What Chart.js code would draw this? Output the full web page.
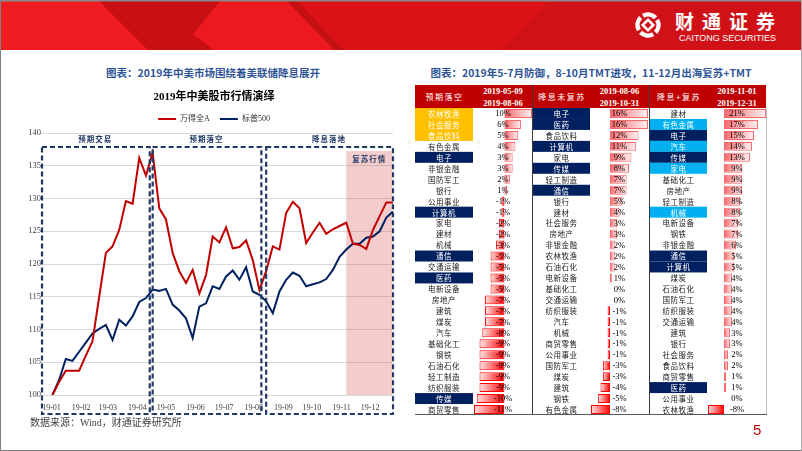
<!DOCTYPE html>
<html lang="zh-CN">
<head>
<meta charset="utf-8">
<title>2019年中美股市行情演绎</title>
<script src="https://cdn.jsdelivr.net/npm/chart.js@4.4.1/dist/chart.umd.min.js"></script>
<style>
*{box-sizing:border-box;}
html,body{margin:0;padding:0;background:#fff;}
#page{position:relative;width:802px;height:451px;overflow:hidden;background:#fff;font-family:"Liberation Serif","Noto Sans CJK SC",serif;}
.a{position:absolute;}
.ttl{position:absolute;top:65px;font-family:"Noto Sans CJK SC",sans-serif;font-weight:700;font-size:10.5px;color:#2F5597;white-space:nowrap;transform:translateX(-50%);line-height:16px;}
#frame{position:absolute;left:0;top:0;width:802px;height:451px;border-left:1.5px solid #808080;border-right:1.5px solid #A6A6A6;border-bottom:1.5px solid #808080;pointer-events:none;}
.hd{position:absolute;color:#fff;white-space:nowrap;transform:translate(-50%,-50%);line-height:10px;}
.hdn{font-family:"Noto Sans CJK SC",sans-serif;font-size:8px;letter-spacing:1.5px;}
.hdd{font-family:"Liberation Serif",serif;font-weight:700;font-size:8.5px;}
.vline{position:absolute;width:1px;background:#3a3a3a;}
</style>
</head>
<body>
<div id="page">
  <svg class="a" style="left:0;top:0" width="802" height="50">
    <rect width="802" height="50" fill="#DD1216"/>
    <polygon points="0,0 98,0 148,50 0,50" fill="#F01C21"/>
    <polygon points="98,0 221,0 193,34 214,50 148,50" fill="#C80F14"/>
    <polygon points="221,0 286,0 336,50 214,50 193,34" fill="#EC191E"/>
    <polygon points="286,0 296,0 344,50 334,50" fill="#C41015"/>
    <polygon points="550,0 802,0 802,50 500,50" fill="#D01118"/>
    <rect width="802" height="1.5" fill="#8a8a8a"/>
    <g transform="translate(648,25)">
      <circle r="10.5" fill="none" stroke="#fff" stroke-width="4.5" stroke-dasharray="13.5 3" transform="rotate(-30)"/>
      <rect x="-5" y="-5" width="10" height="10" fill="#fff" transform="rotate(45)"/>
      <rect x="-2.4" y="-2.4" width="4.8" height="4.8" fill="#D01118" transform="rotate(45)"/>
    </g>
    <text x="675" y="29" font-family="Noto Sans CJK SC" font-weight="700" font-size="19" fill="#fff" textLength="100" lengthAdjust="spacing">财通证券</text>
    <text x="679" y="40.5" font-family="Liberation Sans" font-size="9.5" fill="#fff" textLength="97" lengthAdjust="spacingAndGlyphs">CAITONG SECURITIES</text>
  </svg>

  <div class="ttl" style="left:213px">图表：2019年中美市场围绕着美联储降息展开</div>
  <div class="ttl" style="left:591px">图表：2019年5-7月防御，8-10月TMT进攻，11-12月出海复苏+TMT</div>

  <canvas id="line" class="a" style="left:26px;top:85px" width="376" height="340"></canvas>

  <div id="thead" class="a" style="left:415px;top:85px;width:351px;height:23px;background:#C00000"></div>
  <canvas id="t1" class="a" style="left:415px;top:108px" width="117" height="307"></canvas>
  <canvas id="t2" class="a" style="left:533px;top:108px" width="115" height="307"></canvas>
  <canvas id="t3" class="a" style="left:650px;top:108px" width="116" height="307"></canvas>
  <div class="vline" style="left:532px;top:85px;height:330px"></div>
  <div class="vline" style="left:649px;top:85px;height:330px"></div>
  <div class="a" style="left:766px;top:108px;width:1px;height:307px;background:#BFBFBF"></div>
  <div class="a" style="left:415px;top:414px;width:352px;height:1px;background:#595959"></div>

  <div class="a" style="left:30px;top:416px;font-size:10px;color:#404040;white-space:nowrap;line-height:14px">数据来源：Wind，财通证券研究所</div>
  <div class="a" style="left:753px;top:421px;font-family:'Liberation Sans',sans-serif;font-size:15px;color:#C00000;line-height:18px">5</div>
  <div id="frame"></div>
</div>

<script>
// ---------- line chart data ----------
const startDate = '2019-01-02';           // first weekly observation (base = 100)
const axisStart = '2018-12-21';
const seriesNames = ['万得全A', '标普500'];
const windA = [100, 102.0, 103.7, 103.7, 103.7, 106.0, 108.2, 115.0, 121.7, 122.7,
  125.2, 129.6, 129.2, 136.2, 133.5, 137.0, 128.5, 126.8, 121.7, 118.9,
  117.1, 119.1, 115.5, 118.3, 124.2, 123.3, 125.6, 122.4, 122.6, 123.6,
  120.6, 116.0, 118.9, 122.7, 122.2, 127.8, 129.5, 128.5, 123.2, 124.8,
  126.3, 124.6, 125.3, 125.8, 126.3, 123.1, 122.9, 122.3, 125.2, 127.3,
  129.4, 129.4];
const sp500 = [100, 102.3, 105.5, 105.2, 106.6, 108.0, 109.4, 110.1, 110.7, 108.4,
  111.5, 110.6, 112.0, 114.2, 114.8, 116.1, 115.9, 116.2, 113.8, 112.9,
  111.7, 108.7, 113.5, 114.0, 116.6, 116.2, 118.1, 119.0, 117.6, 119.5,
  115.8, 115.3, 114.3, 112.5, 115.8, 117.6, 118.7, 118.2, 116.6, 116.9,
  117.2, 117.7, 119.1, 121.1, 122.2, 123.1, 123.1, 124.0, 124.2, 125.0,
  127.1, 128.0];
const monthLabels = ['19-01','19-02','19-03','19-04','19-05','19-06','19-07','19-08','19-09','19-10','19-11','19-12'];
const monthStarts = ['2019-01-01','2019-02-01','2019-03-01','2019-04-01','2019-05-01','2019-06-01',
  '2019-07-01','2019-08-01','2019-09-01','2019-10-01','2019-11-01','2019-12-01'];
const phaseNames = ['预期交易', '预期落空', '降息落地'];
const phaseFrom = ['2018-12-21', '2019-04-16', '2019-08-13'];
const phaseTo = ['2019-04-14', '2019-08-09', '2019-12-25'];
const recoveryName = '复苏行情';
const recoveryFrom = '2019-11-06';
const recoveryTo = '2019-12-24';

// ---------- table data ----------
const tableTitles = ['预期落空', '降息未复苏', '降息+复苏'];
const tableFrom = ['2019-05-09', '2019-08-06', '2019-11-01'];
const tableTo = ['2019-08-06', '2019-10-31', '2019-12-31'];
const p1Names = ['农林牧渔','社会服务','食品饮料','有色金属','电子','非银金融','国防军工','银行','公用事业','计算机','家电','建材','机械','通信','交通运输','医药','电新设备','房地产','建筑','煤炭','汽车','基础化工','钢铁','石油石化','轻工制造','纺织服装','传媒','商贸零售'];
const p1Vals = [10,6,5,4,3,3,2,1,-1,-1,-2,-2,-3,-5,-5,-5,-5,-7,-7,-7,-8,-9,-9,-9,-9,-9,-10,-11];
const p2Names = ['电子','医药','食品饮料','计算机','家电','传媒','轻工制造','通信','银行','建材','社会服务','房地产','非银金融','农林牧渔','石油石化','电新设备','基础化工','交通运输','纺织服装','汽车','机械','商贸零售','公用事业','国防军工','煤炭','建筑','钢铁','有色金属'];
const p2Vals = [16,16,12,11,9,8,7,7,5,4,3,3,2,2,2,1,0,0,-1,-1,-1,-1,-1,-3,-3,-4,-5,-8];
const p3Names = ['建材','有色金属','电子','汽车','传媒','家电','基础化工','房地产','轻工制造','机械','电新设备','钢铁','非银金融','通信','计算机','煤炭','石油石化','国防军工','纺织服装','交通运输','建筑','银行','社会服务','食品饮料','商贸零售','医药','公用事业','农林牧渔'];
const p3Vals = [21,17,15,14,13,9,9,9,8,8,7,7,6,5,5,4,4,4,4,4,3,3,2,2,1,1,0,-8];
const tmtGroup = ['电子','计算机','通信','传媒','医药'];
const defensiveGroup = ['农林牧渔','社会服务','食品饮料'];
const recoveryGroup = ['有色金属','汽车','家电','机械'];

Chart.defaults.font.family = '"Liberation Serif","Noto Sans CJK SC",serif';

// ---------- line chart ----------
const day = s => Math.round((Date.parse(s) - Date.parse(startDate)) / 864e5);
const toPts = arr => arr.map((v, i) => ({ x: i * 7, y: v }));

const phasePlugin = {
  id: 'phases',
  beforeDatasetsDraw(chart) {
    const { ctx, chartArea: a, scales: { x } } = chart;
    const x0 = x.getPixelForValue(day(recoveryFrom));
    const x1 = x.getPixelForValue(day(recoveryTo));
    ctx.save();
    ctx.fillStyle = 'rgba(215,85,85,0.3)';
    ctx.fillRect(x0, a.top + 18, x1 - x0, a.bottom - a.top - 18);
    ctx.restore();
  },
  afterDatasetsDraw(chart) {
    const { ctx, chartArea: a, scales: { x } } = chart;
    ctx.save();
    const top = a.top + 14, bottom = a.bottom + 19;
    ctx.strokeStyle = '#1F3864';
    ctx.lineWidth = 2.2;
    ctx.setLineDash([5, 3]);
    phaseNames.forEach((n, i) => {
      const x0 = x.getPixelForValue(day(phaseFrom[i]));
      const x1 = x.getPixelForValue(day(phaseTo[i]));
      ctx.strokeRect(x0 + 1, top, x1 - x0 - 1, bottom - top);
    });
    ctx.setLineDash([]);
    ctx.fillStyle = '#1F3864';
    ctx.font = 'bold 7.5px "Noto Sans CJK SC"';
    ctx.textAlign = 'center';
    ctx.textBaseline = 'middle';
    if ('letterSpacing' in ctx) ctx.letterSpacing = '1px';
    phaseNames.forEach((n, i) => {
      const x0 = x.getPixelForValue(day(phaseFrom[i]));
      const x1 = x.getPixelForValue(day(phaseTo[i]));
      ctx.fillText(n, (x0 + x1) / 2, a.top + 6);
    });
    const r0 = x.getPixelForValue(day(recoveryFrom));
    const r1 = x.getPixelForValue(day(recoveryTo));
    ctx.fillText(recoveryName, (r0 + r1) / 2, a.top + 26);
    ctx.restore();
  }
};

new Chart(document.getElementById('line'), {
  type: 'line',
  data: {
    datasets: [
      { label: seriesNames[0], data: toPts(windA), borderColor: '#C00000', backgroundColor: '#C00000', borderWidth: 2, pointRadius: 0, tension: 0 },
      { label: seriesNames[1], data: toPts(sp500), borderColor: '#002060', backgroundColor: '#002060', borderWidth: 2, pointRadius: 0, tension: 0 }
    ]
  },
  options: {
    responsive: false, animation: false, devicePixelRatio: 1,
    layout: { padding: { left: 0, right: 0, top: 0, bottom: 0 } },
    plugins: {
      title: { display: true, text: '2019年中美股市行情演绎', color: '#000', font: { size: 11, weight: 'bold' }, padding: { top: 5.4, bottom: 1.4 } },
      legend: { display: true, labels: { usePointStyle: true, pointStyle: 'line', pointStyleWidth: 18, boxHeight: 8, font: { size: 8 }, color: '#333', padding: 10 } },
      tooltip: { enabled: false }
    },
    scales: {
      x: {
        type: 'linear', min: day(axisStart), max: (windA.length - 1) * 7,
        grid: { display: false }, border: { display: false },
        afterBuildTicks: s => { s.ticks = monthStarts.map(d => ({ value: day(d) })); },
        ticks: { autoSkip: false, maxRotation: 0, padding: 0, color: '#404040', font: { size: 8 }, callback: (v, i) => monthLabels[i] },
        afterFit: s => { s.height = 30; }
      },
      y: {
        min: 100, max: 140,
        ticks: { stepSize: 5, padding: 0, color: '#404040', font: { size: 8.5 } },
        grid: { color: '#D9D9D9', drawTicks: false }, border: { display: false },
        afterFit: s => { s.width = 15; }
      },
      yRight: {
        position: 'right', display: true,
        ticks: { display: false }, grid: { display: false }, border: { display: false },
        afterFit: s => { s.width = 9; }
      }
    }
  },
  plugins: [phasePlugin]
});

// ---------- table header ----------
const thead = document.getElementById('thead');
const nameCenters = [29.5, 147, 264];
const dateCenters = [88, 204.5, 322];
tableTitles.forEach((t, i) => {
  const n = document.createElement('div');
  n.className = 'hd hdn'; n.style.left = nameCenters[i] + 'px'; n.style.top = '11.5px'; n.textContent = t;
  thead.appendChild(n);
  const d1 = document.createElement('div');
  d1.className = 'hd hdd'; d1.style.left = dateCenters[i] + 'px'; d1.style.top = '6px'; d1.textContent = tableFrom[i];
  thead.appendChild(d1);
  const d2 = document.createElement('div');
  d2.className = 'hd hdd'; d2.style.left = dateCenters[i] + 'px'; d2.style.top = '17.5px'; d2.textContent = tableTo[i];
  thead.appendChild(d2);
});

// ---------- table bar charts ----------
function barFill(c) {
  const chart = c.chart;
  if (!chart.chartArea) return 'rgba(0,0,0,0)';
  const v = c.raw, xs = chart.scales.x;
  const x0 = xs.getPixelForValue(0), x1 = xs.getPixelForValue(v);
  if (Math.abs(x1 - x0) < 0.5) return 'rgba(0,0,0,0)';
  const g = chart.ctx.createLinearGradient(x0, 0, x1, 0);
  if (v >= 0) { g.addColorStop(0, '#F8666C'); g.addColorStop(1, '#FFF3F3'); }
  else { g.addColorStop(0, '#FF0000'); g.addColorStop(1, '#FFE6E6'); }
  return g;
}

function tableChart(id, names, vals, nameW, extraGroup, extraColor) {
  const colorOf = n => tmtGroup.includes(n) ? '#002060' : (extraGroup.includes(n) ? extraColor : null);
  const cells = {
    id: 'cells_' + id,
    beforeDatasetsDraw(chart) {
      const { ctx, chartArea: a, scales: { y } } = chart;
      const h = a.height / names.length;
      ctx.save();
      ctx.textAlign = 'center'; ctx.textBaseline = 'middle';
      ctx.font = '7.5px "Noto Sans CJK SC"';
      if ('letterSpacing' in ctx) ctx.letterSpacing = '0.5px';
      names.forEach((n, i) => {
        const cy = y.getPixelForValue(i);
        const hl = colorOf(n);
        if (hl) { ctx.fillStyle = hl; ctx.fillRect(0, cy - h / 2, a.left - 1, h); }
        ctx.fillStyle = hl ? '#fff' : '#1a1a1a';
        ctx.fillText(n, (a.left - 1) / 2, cy + 0.5);
      });
      ctx.restore();
    },
    afterDatasetsDraw(chart) {
      const { ctx, chartArea: a, scales: { y } } = chart;
      ctx.save();
      ctx.textAlign = 'center'; ctx.textBaseline = 'middle';
      ctx.font = '8.5px "Liberation Serif"';
      ctx.fillStyle = '#000';
      vals.forEach((v, i) => {
        ctx.fillText(v + '%', (a.left + a.right) / 2, y.getPixelForValue(i) + 0.5);
      });
      ctx.restore();
    }
  };
  new Chart(document.getElementById(id), {
    type: 'bar',
    data: { labels: names, datasets: [{
      data: vals, backgroundColor: barFill,
      borderColor: c => c.raw >= 0 ? '#F8696B' : '#FF0000',
      borderWidth: 1, borderSkipped: false, barPercentage: 0.82, categoryPercentage: 1
    }] },
    options: {
      indexAxis: 'y', responsive: false, animation: false, devicePixelRatio: 1,
      layout: { padding: { left: nameW, right: 0, top: 0, bottom: 0 } },
      plugins: { legend: { display: false }, tooltip: { enabled: false }, title: { display: false } },
      scales: {
        x: { display: false, min: Math.min(...vals), max: Math.max(...vals) },
        y: { display: false }
      }
    },
    plugins: [cells]
  });
}

tableChart('t1', p1Names, p1Vals, 59, defensiveGroup, '#FFC000');
tableChart('t2', p2Names, p2Vals, 58, [], null);
tableChart('t3', p3Names, p3Vals, 58, recoveryGroup, '#00B0F0');
</script>
</body>
</html>
